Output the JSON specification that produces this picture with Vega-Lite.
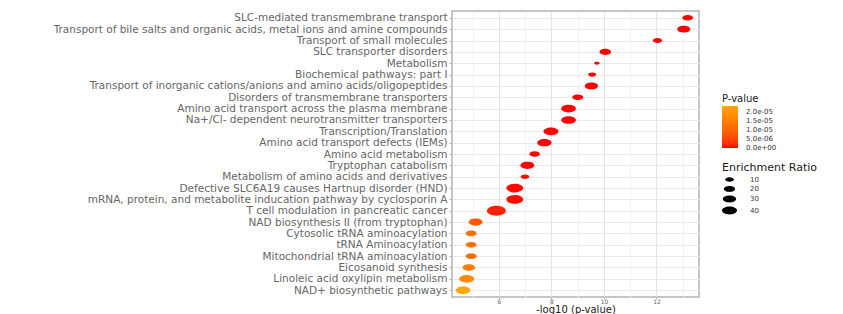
{
  "$schema": "https://vega.github.io/schema/vega-lite/v6.json",
  "width": 247,
  "height": 286,
  "autosize": {"type": "none"},
  "padding": {"left": 452, "top": 11, "right": 144, "bottom": 17},
  "background": "white",
  "config": {
    "font": "DejaVu Sans",
    "view": {"stroke": "#B3B3B3", "strokeWidth": 1.5},
    "legend": {"rowPadding": -5}
  },
  "data": {
    "values": [
      {"term": "SLC-mediated transmembrane transport", "neglog10p": 13.19, "pvalue": 6.5e-14, "ratio": 18},
      {"term": "Transport of bile salts and organic acids, metal ions and amine compounds", "neglog10p": 13.04, "pvalue": 9.1e-14, "ratio": 29},
      {"term": "Transport of small molecules", "neglog10p": 12.04, "pvalue": 9.1e-13, "ratio": 12},
      {"term": "SLC transporter disorders", "neglog10p": 10.05, "pvalue": 8.9e-11, "ratio": 22},
      {"term": "Metabolism", "neglog10p": 9.73, "pvalue": 1.86e-10, "ratio": 1},
      {"term": "Biochemical pathways: part I", "neglog10p": 9.55, "pvalue": 2.8e-10, "ratio": 8},
      {"term": "Transport of inorganic cations/anions and amino acids/oligopeptides", "neglog10p": 9.52, "pvalue": 3.0e-10, "ratio": 30},
      {"term": "Disorders of transmembrane transporters", "neglog10p": 9.0, "pvalue": 1.0e-9, "ratio": 19},
      {"term": "Amino acid transport across the plasma membrane", "neglog10p": 8.65, "pvalue": 2.24e-9, "ratio": 38},
      {"term": "Na+/Cl- dependent neurotransmitter transporters", "neglog10p": 8.65, "pvalue": 2.24e-9, "ratio": 38},
      {"term": "Transcription/Translation", "neglog10p": 7.98, "pvalue": 1.05e-8, "ratio": 40},
      {"term": "Amino acid transport defects (IEMs)", "neglog10p": 7.73, "pvalue": 1.86e-8, "ratio": 36},
      {"term": "Amino acid metabolism", "neglog10p": 7.36, "pvalue": 4.4e-8, "ratio": 18},
      {"term": "Tryptophan catabolism", "neglog10p": 7.08, "pvalue": 8.3e-8, "ratio": 34},
      {"term": "Metabolism of amino acids and derivatives", "neglog10p": 6.99, "pvalue": 1.02e-7, "ratio": 10},
      {"term": "Defective SLC6A19 causes Hartnup disorder (HND)", "neglog10p": 6.6, "pvalue": 2.5e-7, "ratio": 51},
      {"term": "mRNA, protein, and metabolite inducation pathway by cyclosporin A", "neglog10p": 6.6, "pvalue": 2.5e-7, "ratio": 51},
      {"term": "T cell modulation in pancreatic cancer", "neglog10p": 5.9, "pvalue": 1.26e-6, "ratio": 67},
      {"term": "NAD biosynthesis II (from tryptophan)", "neglog10p": 5.11, "pvalue": 7.8e-6, "ratio": 33},
      {"term": "Cytosolic tRNA aminoacylation", "neglog10p": 4.94, "pvalue": 1.15e-5, "ratio": 19},
      {"term": "tRNA Aminoacylation", "neglog10p": 4.94, "pvalue": 1.15e-5, "ratio": 19},
      {"term": "Mitochondrial tRNA aminoacylation", "neglog10p": 4.94, "pvalue": 1.15e-5, "ratio": 19},
      {"term": "Eicosanoid synthesis", "neglog10p": 4.85, "pvalue": 1.41e-5, "ratio": 27},
      {"term": "Linoleic acid oxylipin metabolism", "neglog10p": 4.77, "pvalue": 1.7e-5, "ratio": 40},
      {"term": "NAD+ biosynthetic pathways", "neglog10p": 4.63, "pvalue": 2.34e-5, "ratio": 36}
    ]
  },
  "resolve": {"axis": {"x": "independent"}},
  "layer": [
    {
      "mark": {"type": "point", "opacity": 0},
      "encoding": {
        "x": {
          "field": "neglog10p", "type": "quantitative",
          "scale": {"domain": [4.21, 13.62], "nice": false, "zero": false},
          "axis": {"orient": "top", "values": [5, 7, 9, 11, 13], "grid": true, "gridColor": "#F0F0F0", "gridWidth": 1, "labels": false, "ticks": false, "domain": false, "title": null}
        },
        "y": {
          "field": "term", "type": "nominal", "sort": null,
          "scale": {"type": "point", "padding": 0.6},
          "axis": {
            "title": null, "domain": false, "grid": true, "gridColor": "#EAEAEA", "gridWidth": 1,
            "tickColor": "#B3B3B3", "tickSize": 3, "labelFontSize": 10.5, "labelColor": "#666666", "labelPadding": 2, "labelLimit": 0
          }
        }
      }
    },
    {
      "mark": {
        "type": "point",
        "filled": true,
        "opacity": 1,
        "strokeWidth": 0,
        "shape": "M -1 0 A 1 0.52 0 1 0 1 0 A 1 0.52 0 1 0 -1 0 Z"
      },
      "encoding": {
        "x": {
          "field": "neglog10p", "type": "quantitative",
          "scale": {"domain": [4.21, 13.62], "nice": false, "zero": false},
          "axis": {
            "orient": "bottom", "values": [6, 8, 10, 12], "grid": true, "gridColor": "#E3E3E3", "gridWidth": 1,
            "domain": false, "tickColor": "#B3B3B3", "tickSize": 2, "labelFontSize": 6, "labelColor": "#666666", "labelPadding": -1,
            "title": "-log10 (p-value)", "titleFontSize": 10, "titleFontWeight": "normal", "titleColor": "#1A1A1A",
            "titleBaseline": "alphabetic", "titleY": 15
          }
        },
        "y": {
          "field": "term", "type": "nominal", "sort": null,
          "scale": {"type": "point", "padding": 0.6},
          "axis": {
            "title": null, "domain": false, "grid": true, "gridColor": "#EAEAEA", "gridWidth": 1,
            "tickColor": "#B3B3B3", "tickSize": 3, "labelFontSize": 10.5, "labelColor": "#666666", "labelPadding": 2, "labelLimit": 0
          }
        },
        "color": {
          "field": "pvalue", "type": "quantitative",
          "scale": {"domain": [-1e-8, 2.34e-5], "nice": false, "zero": false, "range": ["#FF0000", "#FFA500"], "interpolate": "lab"},
          "legend": {
            "title": "P-value", "orient": "none", "legendX": 270, "legendY": 83, "direction": "vertical",
            "gradientLength": 42, "gradientThickness": 16, "gradientStrokeWidth": 0,
            "values": [0, 5e-6, 1e-5, 1.5e-5, 2e-5], "labelOverlap": false,
            "labelExpr": "datum.value == 0 ? '0.0e+00' : datum.value < 7e-6 ? '5.0e-06' : datum.value < 1.2e-5 ? '1.0e-05' : datum.value < 1.7e-5 ? '1.5e-05' : '2.0e-05'",
            "labelFontSize": 7, "labelColor": "#333333", "labelOffset": 8,
            "titleFontSize": 10, "titleFontWeight": "normal", "titleColor": "#1A1A1A", "titlePadding": 2
          }
        },
        "size": {
          "field": "ratio", "type": "quantitative",
          "scale": {"domain": [0, 70], "range": [25, 375], "zero": false},
          "legend": {
            "title": "Enrichment Ratio", "orient": "none", "legendX": 270, "legendY": 151,
            "values": [10, 20, 30, 40],
            "symbolType": "M -1 0 A 1 0.52 0 1 0 1 0 A 1 0.52 0 1 0 -1 0 Z",
            "symbolFillColor": "black", "symbolStrokeColor": "black", "symbolStrokeWidth": 0, "symbolOpacity": 1,
            "rowPadding": -5, "labelFontSize": 7, "labelColor": "#333333", "labelOffset": 13,
            "titleFontSize": 11, "titleFontWeight": "normal", "titleColor": "#1A1A1A", "titlePadding": 2
          }
        }
      }
    }
  ]
}
